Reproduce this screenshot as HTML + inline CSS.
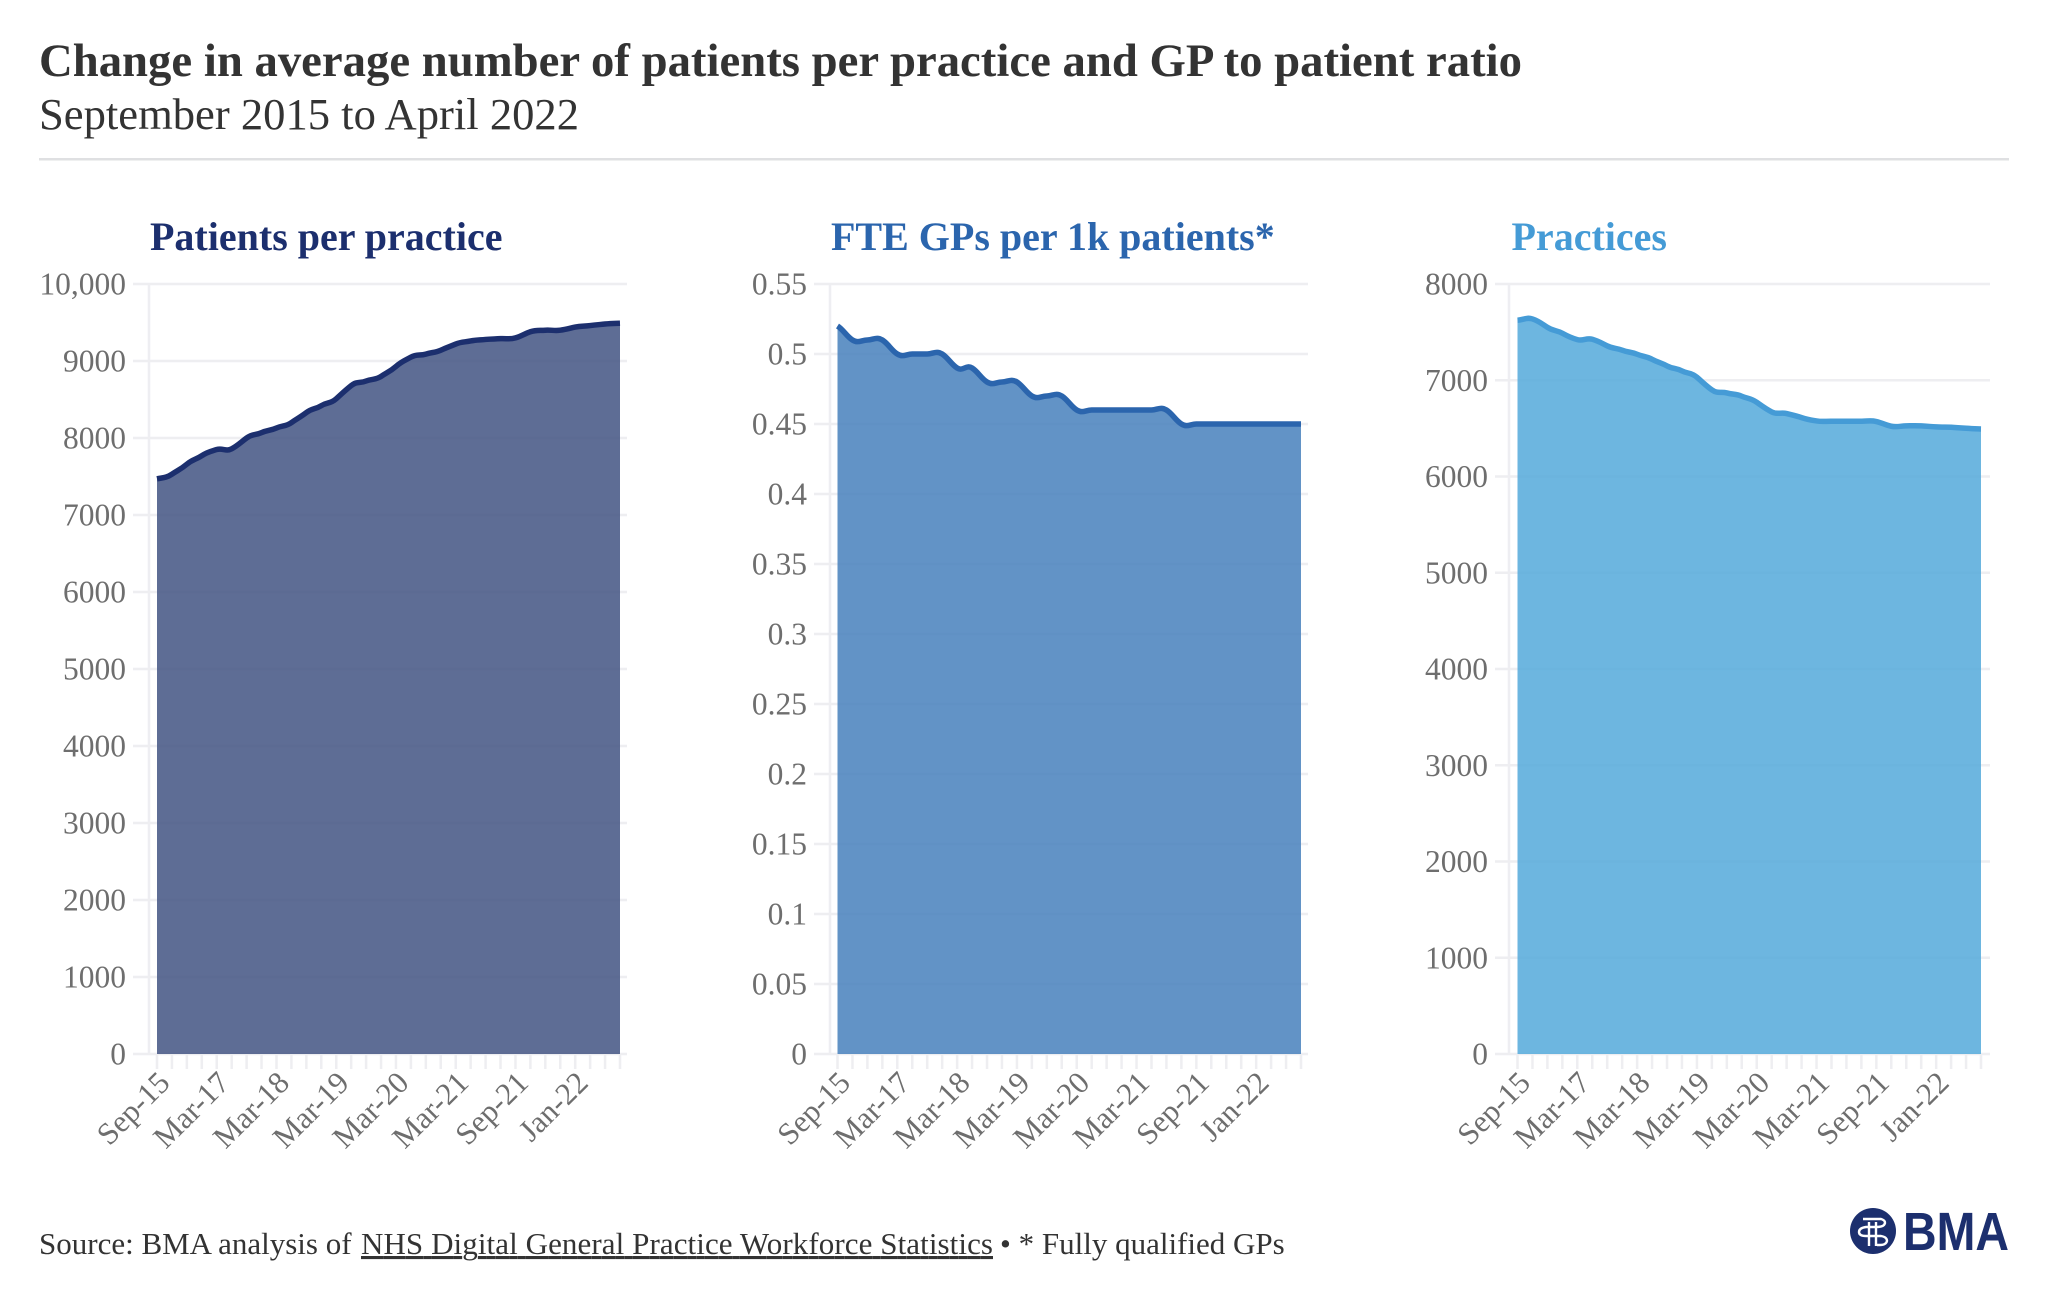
<!DOCTYPE html>
<html lang="en">
<head>
<meta charset="utf-8">
<title>Change in average number of patients per practice and GP to patient ratio</title>
<style>
  html, body { margin: 0; padding: 0; background: #ffffff; }
  svg { display: block; }
  text { font-family: "Liberation Serif", "Times New Roman", serif; }
</style>
</head>
<body>
<svg id="chart" xmlns="http://www.w3.org/2000/svg" width="2048" height="1292" viewBox="0 0 2048 1292">
  <rect x="0" y="0" width="2048" height="1292" fill="#ffffff"></rect>
  <text x="39" y="76" font-size="46.7" font-weight="700" fill="#333333" textLength="1483" lengthAdjust="spacing">Change in average number of patients per practice and GP to patient ratio</text>
  <text x="39" y="129" font-size="44.6" fill="#333333">September 2015 to April 2022</text>
  <rect x="39" y="158" width="1970" height="2.5" fill="#dfe0e2"></rect>

  <g id="panels"></g>

  <text x="39" y="1254" font-size="31" fill="#333333">Source: BMA analysis of</text>
  <text x="361" y="1254" font-size="31" fill="#333333" text-decoration="underline" textLength="632" lengthAdjust="spacing">NHS Digital General Practice Workforce Statistics</text>
  <text x="1000" y="1254" font-size="31" fill="#333333">• * Fully qualified GPs</text>

  <g>
    <circle cx="1873" cy="1231" r="23" fill="#1c2f6e"></circle>
    <g fill="none" stroke="#ffffff" stroke-width="2.4">
      <path d="M1863 1219 H1881 Q1887 1221 1884 1225 Q1882 1227 1876 1227 H1866 Q1859 1228 1859 1232 Q1859 1236 1866 1236 H1881 Q1887 1237 1887 1241 Q1886 1245 1880 1245 H1877"></path>
      <path d="M1869 1222 V1246 M1876 1222 V1246"></path>
    </g>
    <text x="1903" y="1250" font-size="54" font-weight="700" fill="#1c2f6e" textLength="106" lengthAdjust="spacingAndGlyphs" style="font-family:'Liberation Sans',Arial,sans-serif">BMA</text>
  </g>
</svg>

<script>
// Category labels along the shared x axis (blank = tick without a label)
const xLabels = ['Sep-15','','','','Mar-17','','','','Mar-18','','','','Mar-19','','','','Mar-20','','','','Mar-21','','','','Sep-21','','','','Jan-22','','',''];

// Patients per practice
const patientsValues = [7470,7530,7660,7770,7850,7860,8000,8070,8130,8200,8330,8420,8510,8680,8740,8800,8930,9050,9090,9140,9220,9260,9280,9290,9300,9380,9400,9400,9440,9460,9480,9490];
const patientsTicks = [0,1000,2000,3000,4000,5000,6000,7000,8000,9000,10000];
const patientsTickLabels = ['0','1000','2000','3000','4000','5000','6000','7000','8000','9000','10,000'];

// FTE GPs per 1k patients
const gpsValues = [0.52,0.51,0.51,0.51,0.50,0.50,0.50,0.50,0.49,0.49,0.48,0.48,0.48,0.47,0.47,0.47,0.46,0.46,0.46,0.46,0.46,0.46,0.46,0.45,0.45,0.45,0.45,0.45,0.45,0.45,0.45,0.45];
const gpsTicks = [0,0.05,0.1,0.15,0.2,0.25,0.3,0.35,0.4,0.45,0.5,0.55];
const gpsTickLabels = ['0','0.05','0.1','0.15','0.2','0.25','0.3','0.35','0.4','0.45','0.5','0.55'];

// Practices
const practicesValues = [7623,7637,7550,7488,7422,7426,7357,7312,7270,7218,7149,7097,7031,6900,6868,6834,6771,6671,6654,6612,6577,6574,6574,6574,6571,6522,6526,6526,6515,6512,6501,6494];
const practicesTicks = [0,1000,2000,3000,4000,5000,6000,7000,8000];
const practicesTickLabels = ['0','1000','2000','3000','4000','5000','6000','7000','8000'];

const NS = 'http://www.w3.org/2000/svg';
const PLOT_TOP = 284;
const PLOT_BOTTOM = 1054;
const panelsRoot = document.getElementById('panels');

function makeScaleY(maxValue) {
  return function (v) { return PLOT_BOTTOM - (v / maxValue) * (PLOT_BOTTOM - PLOT_TOP); };
}
function makeScaleX(left, right, count) {
  return function (i) { return left + (i / (count - 1)) * (right - left); };
}
function splinePath(pts) {
  const K = 0.27;
  let d = 'M' + pts[0][0].toFixed(2) + ' ' + pts[0][1].toFixed(2);
  for (let i = 0; i < pts.length - 1; i++) {
    const p0 = pts[Math.max(i - 1, 0)], p1 = pts[i], p2 = pts[i + 1], p3 = pts[Math.min(i + 2, pts.length - 1)];
    const dx = p2[0] - p1[0];
    const c1x = p1[0] + 0.4 * dx, c1y = p1[1] + K * (p2[1] - p0[1]);
    const c2x = p2[0] - 0.4 * dx, c2y = p2[1] - K * (p3[1] - p1[1]);
    d += ' C' + c1x.toFixed(2) + ' ' + c1y.toFixed(2) + ' ' + c2x.toFixed(2) + ' ' + c2y.toFixed(2) + ' ' + p2[0].toFixed(2) + ' ' + p2[1].toFixed(2);
  }
  return d;
}
function svgEl(tag, parent) {
  const el = document.createElementNS(NS, tag);
  parent.appendChild(el);
  return el;
}

function drawPanel(cfg) {
  const g = svgEl('g', panelsRoot);
  
  

  const maxTick = cfg.ticks[cfg.ticks.length - 1];
  const sy = makeScaleY(maxTick);
  const sx = makeScaleX(cfg.left, cfg.right, cfg.values.length);

  const title = svgEl('text', g);
  title.setAttribute('x', cfg.titleX);
  title.setAttribute('y', 250);
  title.setAttribute('font-size', 40);
  title.setAttribute('font-weight', 700);
  title.setAttribute('fill', cfg.color);
  title.textContent = cfg.title;
  
  

  // y axis line
  const axis = svgEl('rect', g);
  axis.setAttribute('x', cfg.axisX - 1.25);
  axis.setAttribute('y', PLOT_TOP);
  axis.setAttribute('width', 2.5);
  axis.setAttribute('height', PLOT_BOTTOM - PLOT_TOP);
  axis.setAttribute('fill', '#eeeef2');
  
  

  // gridlines and y tick labels
  cfg.ticks.forEach(function (t, i) {
    const line = svgEl('rect', g);
    line.setAttribute('x', cfg.gridLeft);
    line.setAttribute('y', sy(t) - 1.25);
    line.setAttribute('width', cfg.gridRight - cfg.gridLeft);
    line.setAttribute('height', 2.5);
    line.setAttribute('fill', '#eeeef1');
    
    

    const lab = svgEl('text', g);
    lab.setAttribute('x', cfg.gridLeft - 7);
    lab.setAttribute('y', sy(t) + 10.5);
    lab.setAttribute('text-anchor', 'end');
    lab.setAttribute('font-size', 31.5);
    lab.setAttribute('fill', '#6e6e6e');
    lab.textContent = cfg.tickLabels[i];
    
    
  });

  // x ticks and labels
  xLabels.forEach(function (label, i) {
    const x = sx(i);
    const tick = svgEl('rect', g);
    tick.setAttribute('x', x - 1.25);
    tick.setAttribute('y', PLOT_BOTTOM);
    tick.setAttribute('width', 2.5);
    tick.setAttribute('height', 15);
    tick.setAttribute('fill', '#eeeef1');
    
    
    if (label) {
      const lab = svgEl('text', g);
      lab.setAttribute('text-anchor', 'end');
      lab.setAttribute('font-size', 31);
      lab.setAttribute('fill', '#6e6e6e');
      lab.setAttribute('transform', 'translate(' + (x + 14.5).toFixed(2) + ' 1084.5) rotate(-45)');
      lab.textContent = label;
      
      
    }
  });

  const pts = cfg.values.map(function (v, i) { return [sx(i), sy(v)]; });
  const curve = splinePath(pts);

  const area = svgEl('path', g);
  area.setAttribute('d', curve + ' L' + sx(cfg.values.length - 1).toFixed(2) + ' ' + PLOT_BOTTOM + ' L' + sx(0).toFixed(2) + ' ' + PLOT_BOTTOM + ' Z');
  area.setAttribute('fill', cfg.fill);
  area.setAttribute('fill-opacity', 0.85);
  
  

  const line = svgEl('path', g);
  line.setAttribute('d', curve);
  line.setAttribute('fill', 'none');
  line.setAttribute('stroke', cfg.color);
  line.setAttribute('stroke-width', 5.5);
  
  
}

drawPanel({ name: 'patients-per-practice', title: 'Patients per practice', titleX: 150, color: '#1c2f6e', fill: '#425482',
  values: patientsValues, ticks: patientsTicks, tickLabels: patientsTickLabels,
  left: 157, right: 620, axisX: 149, gridLeft: 133, gridRight: 627 });
drawPanel({ name: 'fte-gps-per-1k', title: 'FTE GPs per 1k patients*', titleX: 831, color: '#2b65ad', fill: '#4780bc',
  values: gpsValues, ticks: gpsTicks, tickLabels: gpsTickLabels,
  left: 837.5, right: 1301, axisX: 830, gridLeft: 814, gridRight: 1308 });
drawPanel({ name: 'practices', title: 'Practices', titleX: 1511.5, color: '#459bd6', fill: '#54a9db',
  values: practicesValues, ticks: practicesTicks, tickLabels: practicesTickLabels,
  left: 1517.5, right: 1981, axisX: 1509, gridLeft: 1495, gridRight: 1990 });
</script>
</body>
</html>
